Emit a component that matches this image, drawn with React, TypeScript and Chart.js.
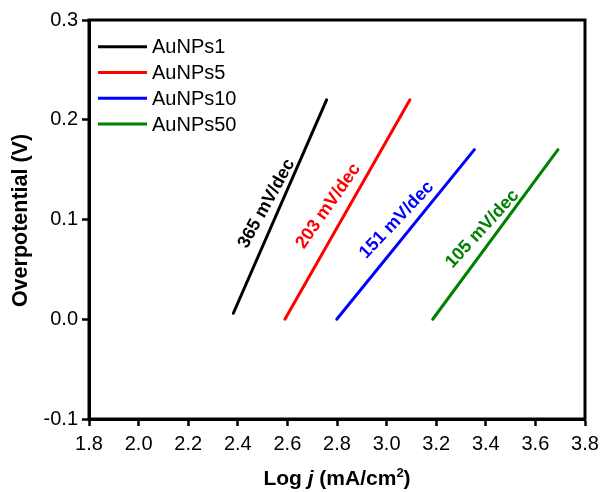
import { useEffect, useRef } from 'react';
import { Chart, registerables } from 'chart.js';

Chart.register(...registerables);

const FONT = "'Liberation Sans', Arial, Helvetica, sans-serif";

// Series (Tafel fits): log j (mA/cm2) vs overpotential (V)
const seriesNames = ['AuNPs1', 'AuNPs5', 'AuNPs10', 'AuNPs50'];
const seriesColors = ['#000000', '#ff0000', '#0000ff', '#008000'];
const logJ_AuNPs1 = [2.382, 2.758];
const eta_AuNPs1 = [0.006, 0.22];
const logJ_AuNPs5 = [2.59, 3.094];
const eta_AuNPs5 = [0.0, 0.22];
const logJ_AuNPs10 = [2.799, 3.354];
const eta_AuNPs10 = [0.0, 0.17];
const logJ_AuNPs50 = [3.186, 3.691];
const eta_AuNPs50 = [0.0, 0.17];

// Tafel slope annotations (anchor in data coordinates)
const tafelLabels = ['365 mV/dec', '203 mV/dec', '151 mV/dec', '105 mV/dec'];
const tafelLabelX = [2.516, 2.765, 3.041, 3.386];
const tafelLabelY = [0.116, 0.1135, 0.0995, 0.0905];
const tafelLabelAngle = [-61, -55, -46.5, -47.5];

// Axis ticks
const xTicks = [1.8, 2.0, 2.2, 2.4, 2.6, 2.8, 3.0, 3.2, 3.4, 3.6, 3.8];
const yTicks = [-0.1, 0.0, 0.1, 0.2, 0.3];

const xs = [logJ_AuNPs1, logJ_AuNPs5, logJ_AuNPs10, logJ_AuNPs50];
const ys = [eta_AuNPs1, eta_AuNPs5, eta_AuNPs10, eta_AuNPs50];

const decorPlugin = {
  id: 'decor',
  afterDatasetsDraw(chart: any) {
    const { ctx, chartArea, scales } = chart;
    const { left, right, top, bottom } = chartArea;
    ctx.save();
    // frame
    ctx.strokeStyle = '#000';
    ctx.lineWidth = 3;
    ctx.strokeRect(left, top, right - left, bottom - top);

    // legend
    ctx.font = `20px ${FONT}`;
    ctx.textBaseline = 'middle';
    ctx.textAlign = 'left';
    seriesNames.forEach((name, i) => {
      const y = top + 26.7 + i * 25.8;
      ctx.strokeStyle = seriesColors[i];
      ctx.lineWidth = 3;
      ctx.beginPath();
      ctx.moveTo(left + 9, y);
      ctx.lineTo(left + 58, y);
      ctx.stroke();
      ctx.fillStyle = '#000';
      ctx.fillText(name, left + 63, y + 1);
    });

    // slope labels
    ctx.font = `bold 18px ${FONT}`;
    ctx.textAlign = 'center';
    ctx.textBaseline = 'middle';
    tafelLabels.forEach((t, i) => {
      const px = scales.x.getPixelForValue(tafelLabelX[i]);
      const py = scales.y.getPixelForValue(tafelLabelY[i]);
      ctx.save();
      ctx.translate(px, py);
      ctx.rotate((tafelLabelAngle[i] * Math.PI) / 180);
      ctx.fillStyle = seriesColors[i];
      ctx.fillText(t, 0, 0);
      ctx.restore();
    });

    // y title
    ctx.save();
    ctx.fillStyle = '#000';
    ctx.font = `bold 21.5px ${FONT}`;
    ctx.translate(21, (top + bottom) / 2 + 1);
    ctx.rotate(-Math.PI / 2);
    ctx.textAlign = 'center';
    ctx.textBaseline = 'middle';
    ctx.fillText('Overpotential (V)', 0, 0);
    ctx.restore();

    // x title: Log j (mA/cm2) with italic j and superscript 2
    const parts = [
      { t: 'Log ', f: `bold 21px ${FONT}`, dy: 0 },
      { t: 'j', f: `italic bold 21px ${FONT}`, dy: 0 },
      { t: ' (mA/cm', f: `bold 21px ${FONT}`, dy: 0 },
      { t: '2', f: `bold 13px ${FONT}`, dy: -8 },
      { t: ')', f: `bold 21px ${FONT}`, dy: 0 },
    ];
    let total = 0;
    parts.forEach((p) => {
      ctx.font = p.f;
      total += ctx.measureText(p.t).width;
    });
    let x = (left + right) / 2 - total / 2;
    const base = 485;
    ctx.textAlign = 'left';
    ctx.textBaseline = 'alphabetic';
    ctx.fillStyle = '#000';
    parts.forEach((p) => {
      ctx.font = p.f;
      ctx.fillText(p.t, x, base + p.dy);
      x += ctx.measureText(p.t).width;
    });
    ctx.restore();
  },
};

export default function App() {
  const ref = useRef<HTMLCanvasElement | null>(null);
  useEffect(() => {
    if (!ref.current) return;
    const chart = new Chart(ref.current, {
      type: 'scatter',
      data: {
        datasets: seriesNames.map((name, i) => ({
          label: name,
          data: xs[i].map((x, k) => ({ x, y: ys[i][k] })),
          showLine: true,
          borderColor: seriesColors[i],
          backgroundColor: seriesColors[i],
          borderWidth: 3,
          pointRadius: 0,
          borderCapStyle: 'round' as const,
        })),
      },
      options: {
        responsive: false,
        animation: false,
        devicePixelRatio: 1,
        layout: { padding: { top: 20, right: 16, left: 0, bottom: 0 } },
        plugins: { legend: { display: false }, tooltip: { enabled: false } },
        scales: {
          x: {
            type: 'linear',
            min: 1.8,
            max: 3.8,
            afterBuildTicks: (s: any) => {
              s.ticks = xTicks.map((v) => ({ value: v }));
            },
            afterFit: (s: any) => {
              s.height = 73;
              s.paddingLeft = 0;
              s.paddingRight = 0;
            },
            ticks: {
              autoSkip: false,
              maxRotation: 0,
              color: '#000',
              font: { family: FONT, size: 20 },
              padding: 6,
              callback: (v: any) => Number(v).toFixed(1),
            },
            grid: {
              drawOnChartArea: false,
              drawTicks: true,
              tickLength: 7,
              tickWidth: 2.5,
              color: '#000',
            },
            border: { display: true, width: 3, color: '#000' },
          },
          y: {
            type: 'linear',
            min: -0.1,
            max: 0.3,
            afterBuildTicks: (s: any) => {
              s.ticks = yTicks.map((v) => ({ value: v }));
            },
            afterFit: (s: any) => {
              s.width = 89;
              s.paddingTop = 0;
              s.paddingBottom = 0;
            },
            ticks: {
              color: '#000',
              font: { family: FONT, size: 20 },
              padding: 4,
              callback: (v: any) => Number(v).toFixed(1),
            },
            grid: {
              drawOnChartArea: false,
              drawTicks: true,
              tickLength: 7,
              tickWidth: 2.5,
              color: '#000',
            },
            border: { display: true, width: 3, color: '#000' },
          },
        },
      },
      plugins: [decorPlugin],
    });
    return () => chart.destroy();
  }, []);
  return (
    <div style={{ position: 'absolute', left: 0, top: 0, width: 601, height: 492, background: '#fff' }}>
      <canvas ref={ref} width={601} height={492} />
    </div>
  );
}
